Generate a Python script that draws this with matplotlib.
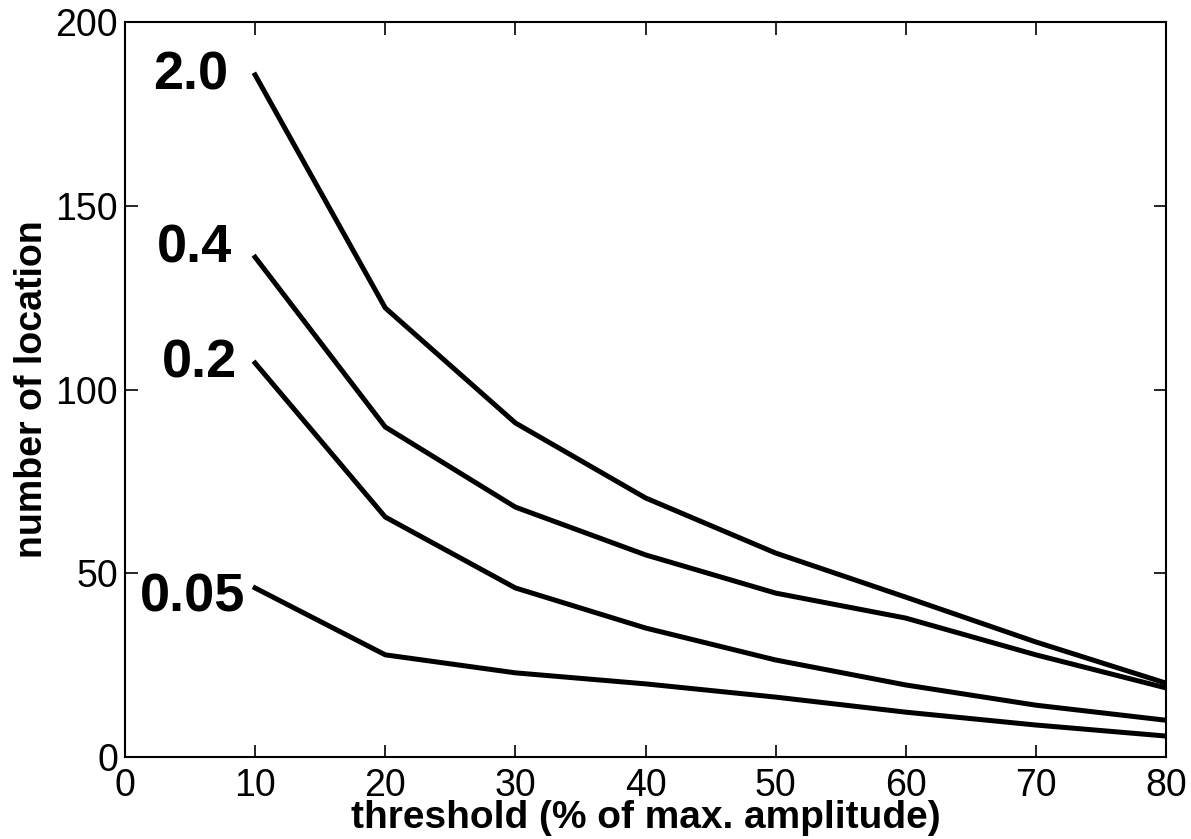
import matplotlib
matplotlib.use("Agg")
import matplotlib.pyplot as plt

thresholds = [10, 20, 30, 40, 50, 60, 70, 80]
series_labels = ["2.0", "0.4", "0.2", "0.05"]
vals_2_0 = [185.6, 122.2, 90.9, 70.5, 55.5, 43.5, 31.3, 20.1]
vals_0_4 = [136.0, 89.8, 68.0, 55.0, 44.6, 37.8, 27.8, 18.8]
vals_0_2 = [107.2, 65.3, 46.0, 35.1, 26.4, 19.6, 14.1, 10.0]
vals_0_05 = [46.0, 27.8, 22.9, 19.9, 16.3, 12.2, 8.7, 5.7]
series_values = [vals_2_0, vals_0_4, vals_0_2, vals_0_05]

xticks = [0, 10, 20, 30, 40, 50, 60, 70, 80]
yticks = [0, 50, 100, 150, 200]

# label placement (layout only): right edge x in data units, vertical shift
label_right_x = [7.92, 8.22, 8.6, 9.22]
label_dy = [-0.1, 2.5, -0.2, -2.7]

plt.rcParams['font.family'] = ['Liberation Sans', 'DejaVu Sans']

fig = plt.figure(figsize=(11.91, 8.39), dpi=100)
ax = fig.add_axes([125/1191, 1 - 757/839, (1166-125)/1191, (757-22)/839])

for lab, vals, rx, dy in zip(series_labels, series_values, label_right_x, label_dy):
    ax.plot(thresholds, vals, color='black', linewidth=3.6, solid_joinstyle='miter')
    ax.text(rx, vals[0] + dy, lab, ha='right', va='center',
            fontsize=39, fontweight='bold')

ax.set_xlim(0, 80)
ax.set_ylim(0, 200)
ax.set_xticks(xticks)
ax.set_yticks(yticks)
ax.tick_params(direction='in', length=9, width=1.2, labelsize=27,
               top=True, right=True)
ax.tick_params(axis='x', pad=8)
ax.tick_params(axis='y', pad=5)
for s in ax.spines.values():
    s.set_linewidth(1.5)

ax.set_xlabel('threshold (% of max. amplitude)', fontsize=28, fontweight='bold', labelpad=-3)
ax.set_ylabel('number of location', fontsize=27, fontweight='bold', labelpad=4)

fig.savefig('out.png', dpi=100)
